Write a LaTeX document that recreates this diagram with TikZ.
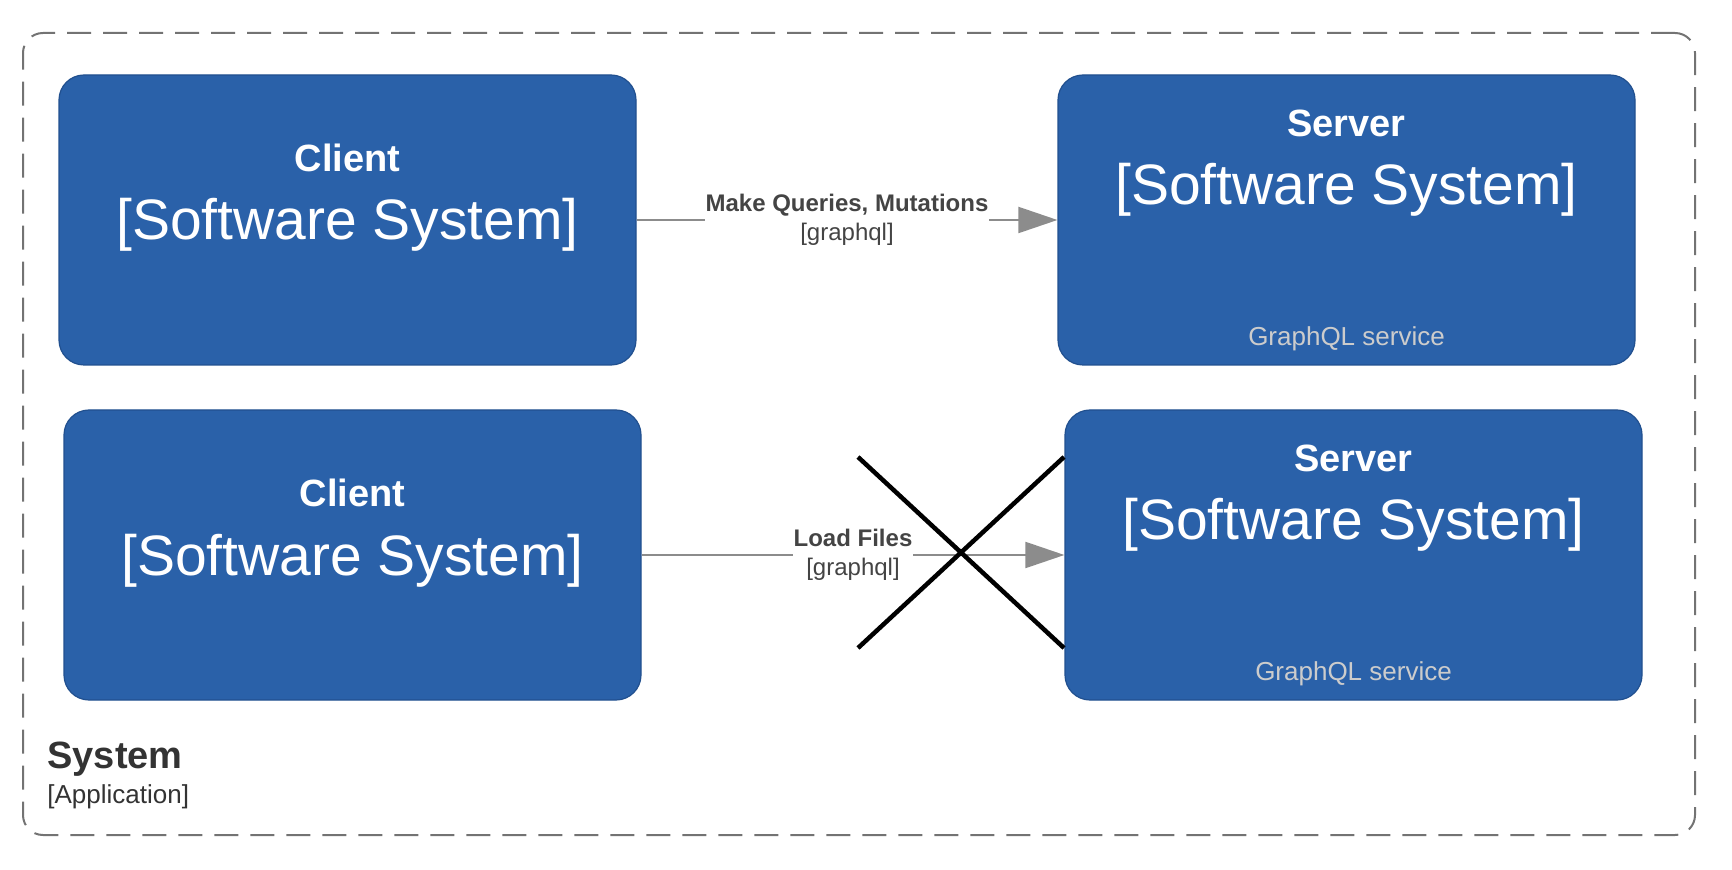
\documentclass[tikz,border=0pt]{standalone}
\usepackage{fontspec}
\setmainfont{Liberation Sans}
\usetikzlibrary{arrows.meta}
\definecolor{sysblue}{HTML}{2A61A9}
\definecolor{sysedge}{HTML}{21508F}
\definecolor{dimtext}{HTML}{444444}
\definecolor{subtext}{HTML}{CCCCCC}
\begin{document}
\begin{tikzpicture}[x=0.5pt,y=0.5pt]
              \tikzstyle{every node}+=[inner sep=0pt]
              \tikzstyle{sysbox}=[draw=sysedge, fill=sysblue, line width=0.6pt, rounded corners=12.5pt, minimum width=288.5pt, minimum height=145pt]
              \tikzstyle{ttl}=[text=white, anchor=base, font=\fontsize{19}{23}\selectfont\bfseries]
              \tikzstyle{kind}=[text=white, anchor=base, font=\fontsize{28.5}{34}\selectfont]
              \tikzstyle{desc}=[text=subtext, anchor=base, font=\fontsize{13}{16}\selectfont]
              \tikzstyle{conn}=[draw=gray!90, line width=1pt, -{Triangle[length=19.5pt,width=13pt]}]
              \tikzstyle{lbl}=[fill=white, inner sep=0.5pt, align=center, text=dimtext, font=\fontsize{12}{14.5}\selectfont]
              \useasboundingbox (0,0) rectangle (1732,-870);
              \node [draw=gray!110, line width=1pt, dash pattern=on 12pt off 6pt, rounded corners=10pt, minimum width=836pt, minimum height=401pt] (sys) at (859,-434) {};
              \node [sysbox] (c1) at (347.5,-220) {};
              \node [sysbox] (s1) at (1346.5,-220) {};
              \node [sysbox] (c2) at (352.5,-555) {};
              \node [sysbox] (s2) at (1353.5,-555) {};
              \node [ttl] (c1t) at ([yshift=24pt]c1.center) {Client};
              \node [kind] (c1k) at ([yshift=-10pt]c1.center) {[Software System]};
              \node [ttl] (s1t) at ([yshift=-31pt]s1.north) {Server};
              \node [kind] (s1k) at ([yshift=-65pt]s1.north) {[Software System]};
              \node [desc] (s1d) at ([yshift=10pt]s1.south) {GraphQL service};
              \node [ttl] (c2t) at ([yshift=24pt]c2.center) {Client};
              \node [kind] (c2k) at ([yshift=-10pt]c2.center) {[Software System]};
              \node [ttl] (s2t) at ([yshift=-31pt]s2.north) {Server};
              \node [kind] (s2k) at ([yshift=-65pt]s2.north) {[Software System]};
              \node [desc] (s2d) at ([yshift=10pt]s2.south) {GraphQL service};
              \draw [conn] (c1) -- node [lbl] {\textbf{Make Queries, Mutations}\\{[graphql]}} (s1);
              \draw [conn] (c2) -- node [lbl] {\textbf{Load Files}\\{[graphql]}} (s2);
              \draw [black, line width=2.25pt] (858,-457) -- (1064,-648);
              \draw [black, line width=2.25pt] (858,-648) -- (1064,-457);
              \node [anchor=base west, text=black!80, font=\fontsize{19}{23}\selectfont\bfseries] (syst) at (47,-768) {System};
              \node [anchor=base west, text=black!80, font=\fontsize{13}{16}\selectfont] (sysk) at (47,-803) {[Application]};
            \end{tikzpicture}
\end{document}
